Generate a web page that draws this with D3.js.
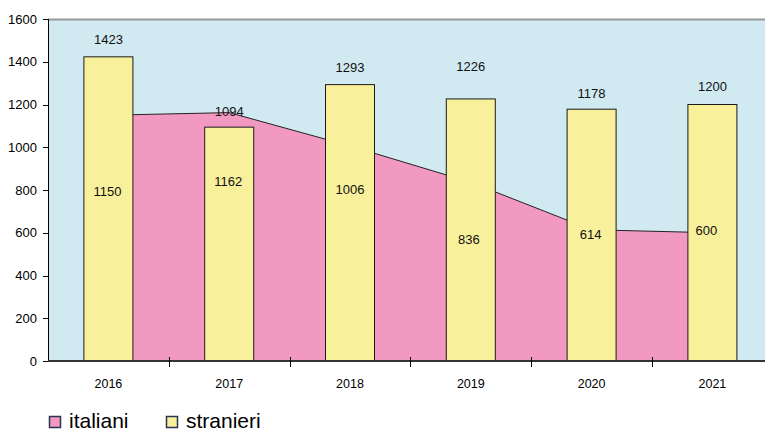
<!DOCTYPE html>
<html>
<head>
<meta charset="utf-8">
<script src="https://cdn.jsdelivr.net/npm/d3@7"></script>
<style>
  html, body { margin: 0; padding: 0; background: #ffffff; overflow: hidden; }
  svg { display: block; font-family: "Liberation Sans", Arial, sans-serif; }
</style>
</head>
<body>
<svg id="chart" width="765" height="429"></svg>
<script>
// Residents by year: Italians (area) and foreigners (bars)
const years = ["2016", "2017", "2018", "2019", "2020", "2021"];
const italiani = [1150, 1162, 1006, 836, 614, 600];
const stranieri = [1423, 1094, 1293, 1226, 1178, 1200];
const yTicks = [0, 200, 400, 600, 800, 1000, 1200, 1400, 1600];
const seriesNames = ["italiani", "stranieri"];

const colors = {
  plot: "#d1e9f1",
  italiani: "#f299c1",
  stranieri: "#f8f09a"
};

const svg = d3.select("#chart");
const plotLeft = 48, plotTop = 19, plotBottom = 361;
const bandW = 120.8;

const x = d3.scaleBand().domain(years).range([plotLeft, plotLeft + bandW * years.length]).padding(0);
const y = d3.scaleLinear().domain([0, 1600]).range([plotBottom, plotTop]);
const cx = d => x(d) + x.bandwidth() / 2;
const barW = 50;

// plot background
svg.append("rect")
  .attr("x", plotLeft).attr("y", plotTop)
  .attr("width", x.range()[1] - plotLeft).attr("height", plotBottom - plotTop)
  .attr("fill", colors.plot);

// top frame line
svg.append("line")
  .attr("x1", plotLeft).attr("x2", 765)
  .attr("y1", plotTop + 0.5).attr("y2", plotTop + 0.5)
  .attr("stroke", "#9a9a9a").attr("stroke-width", 2);

// Italians area
const area = d3.area()
  .x((d, i) => cx(years[i]))
  .y0(y(0))
  .y1(d => y(d));
svg.append("path")
  .datum(italiani)
  .attr("d", area)
  .attr("fill", colors.italiani);
const line = d3.line()
  .x((d, i) => cx(years[i]))
  .y(d => y(d));
svg.append("path")
  .datum(italiani)
  .attr("d", line)
  .attr("fill", "none")
  .attr("stroke", "#222")
  .attr("stroke-width", 1);

// foreigners bars
svg.selectAll("rect.bar")
  .data(stranieri)
  .join("rect")
  .attr("class", "bar")
  .attr("x", (d, i) => cx(years[i]) - barW / 2 + 0.5)
  .attr("y", d => y(d))
  .attr("width", barW - 1)
  .attr("height", d => y(0) - y(d))
  .attr("fill", colors.stranieri)
  .attr("stroke", "#1a1a1a")
  .attr("stroke-width", 1);

// y axis
const yAxis = svg.append("g");
yAxis.append("line")
  .attr("x1", plotLeft + 0.5).attr("x2", plotLeft + 0.5)
  .attr("y1", plotTop).attr("y2", plotBottom)
  .attr("stroke", "#000");
yAxis.selectAll("line.tick")
  .data(yTicks)
  .join("line")
  .attr("class", "tick")
  .attr("x1", 43).attr("x2", plotLeft)
  .attr("y1", d => Math.round(y(d)) + 0.5)
  .attr("y2", d => Math.round(y(d)) + 0.5)
  .attr("stroke", "#000");
yAxis.selectAll("text")
  .data(yTicks)
  .join("text")
  .attr("x", 37)
  .attr("y", d => y(d) + 4.5)
  .attr("text-anchor", "end")
  .attr("font-size", 13)
  .attr("fill", "#000")
  .text(d => d);

// x axis
const xAxis = svg.append("g");
xAxis.append("line")
  .attr("x1", plotLeft).attr("x2", 765)
  .attr("y1", plotBottom).attr("y2", plotBottom)
  .attr("stroke", "#333").attr("stroke-width", 2);
xAxis.selectAll("line.tick")
  .data(years.slice(1))
  .join("line")
  .attr("class", "tick")
  .attr("x1", d => Math.round(x(d)) + 0.5)
  .attr("x2", d => Math.round(x(d)) + 0.5)
  .attr("y1", 357).attr("y2", 367)
  .attr("stroke", "#000");
xAxis.selectAll("text")
  .data(years)
  .join("text")
  .attr("x", d => cx(d))
  .attr("y", 388)
  .attr("text-anchor", "middle")
  .attr("font-size", 12.5)
  .attr("fill", "#000")
  .text(d => d);

// value labels: foreigners above bars, Italians inside the bars
const barLabelLift = [17, 16, 17, 32, 16, 18];
svg.append("g").selectAll("text")
  .data(stranieri)
  .join("text")
  .attr("x", (d, i) => cx(years[i]))
  .attr("y", (d, i) => y(d) - barLabelLift[i] + 4.5)
  .attr("text-anchor", "middle")
  .attr("font-size", 13)
  .attr("fill", "#111")
  .text(d => d);

const areaLabelDrop = [76, 69, 44, 57, 5, -2];
const areaLabelShift = [-1, -1, 0, -2, -1, -6];
svg.append("g").selectAll("text")
  .data(italiani)
  .join("text")
  .attr("x", (d, i) => cx(years[i]) + areaLabelShift[i])
  .attr("y", (d, i) => y(d) + areaLabelDrop[i] + 4.5)
  .attr("text-anchor", "middle")
  .attr("font-size", 13)
  .attr("fill", "#111")
  .text(d => d);

// legend
const legendX = [49, 166];
const legend = svg.append("g").selectAll("g")
  .data(seriesNames)
  .join("g")
  .attr("transform", (d, i) => `translate(${legendX[i]},416)`);
legend.append("rect")
  .attr("x", 0.5).attr("y", 0.5)
  .attr("width", 11).attr("height", 11)
  .attr("fill", d => colors[d])
  .attr("stroke", "#2b3553")
  .attr("stroke-width", 1.5);
legend.append("text")
  .attr("x", 20)
  .attr("y", 12)
  .attr("font-size", 21)
  .attr("fill", "#000")
  .text(d => d);
</script>
</body>
</html>
